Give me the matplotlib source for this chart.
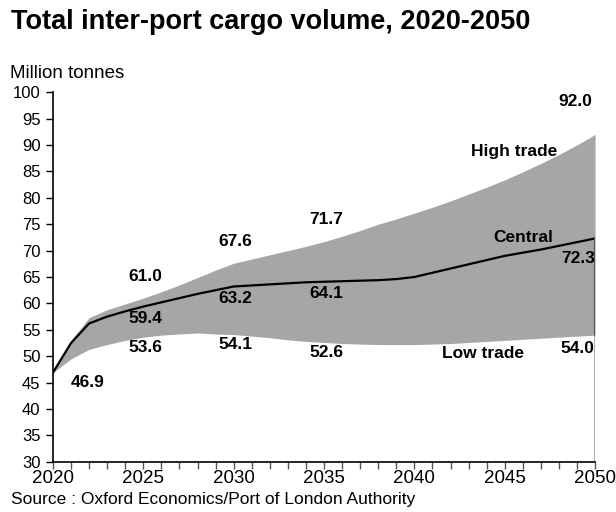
import matplotlib.pyplot as plt
import numpy as np

plt.rcParams['font.family'] = ['Liberation Sans', 'DejaVu Sans']

years = np.arange(2020, 2051)
central = [46.9, 52.5, 56.2, 57.5, 58.5, 59.4, 60.2, 61.0, 61.8, 62.5,
           63.2, 63.4, 63.6, 63.8, 64.0, 64.1, 64.2, 64.3, 64.4, 64.6,
           65.0, 65.8, 66.6, 67.4, 68.2, 69.0, 69.6, 70.2, 70.9, 71.6, 72.3]
high = [46.9, 53.0, 57.3, 58.8, 59.9, 61.0, 62.2, 63.5, 64.9, 66.3,
        67.6, 68.4, 69.2, 70.0, 70.8, 71.7, 72.7, 73.8, 75.0, 76.0,
        77.1, 78.2, 79.4, 80.7, 82.0, 83.4, 84.9, 86.5, 88.2, 90.0, 92.0]
low = [46.9, 49.5, 51.3, 52.2, 53.0, 53.6, 54.0, 54.2, 54.4, 54.2,
       54.1, 53.8, 53.5, 53.1, 52.8, 52.6, 52.4, 52.3, 52.2, 52.2,
       52.2, 52.3, 52.4, 52.6, 52.8, 53.0, 53.2, 53.4, 53.6, 53.8, 54.0]
label_years = [2025, 2030, 2035]

fig = plt.figure(figsize=(6.16, 5.12), dpi=100)
ax = fig.add_axes([0.086, 0.098, 0.880, 0.722])

ax.fill_between(years, low, high, color='#a6a6a6', lw=0)
ax.plot(years, central, color='black', lw=1.6)
# end-of-period drop line
ax.plot([2050, 2050], [30, low[-1]], color='#9a9a9a', lw=1.2)
ax.plot([2050, 2050], [low[-1], central[-1]], color='#555555', lw=1.6)

ax.set_xlim(2020, 2050)
ax.set_ylim(30, 100)
ax.set_yticks(np.arange(30, 101, 5))
ax.set_xticks(years)
ax.set_xticklabels([str(y) if y % 5 == 0 else '' for y in years])
ax.tick_params(axis='y', labelsize=12, length=5, width=1, direction='out', pad=4)
ax.tick_params(axis='x', labelsize=13.5, length=5, width=1, direction='out',
               color='#555555', pad=1)
for s in ['top', 'right']:
    ax.spines[s].set_visible(False)
ax.spines['left'].set_linewidth(1.2)
ax.spines['bottom'].set_linewidth(1.2)

idx = {y: i for i, y in enumerate(years)}
kw = dict(fontsize=12.5, fontweight='bold', ha='center', va='center',
          textcoords='offset pixels')
ax.annotate(f'{central[0]:.1f}', (2020, central[0]), xytext=(35, -10), **kw)
for y in label_years:
    i = idx[y]
    ax.annotate(f'{high[i]:.1f}', (y, high[i]), xytext=(2, 22), **kw)
    ax.annotate(f'{central[i]:.1f}', (y, central[i]), xytext=(2, -12), **kw)
    ax.annotate(f'{low[i]:.1f}', (y, low[i]), xytext=(2, -10), **kw)
ax.annotate(f'{high[-1]:.1f}', (2050, high[-1]), xytext=(-20, 33), **kw)
ax.annotate(f'{central[-1]:.1f}', (2050, central[-1]), xytext=(-17, -20), **kw)
ax.annotate(f'{low[-1]:.1f}', (2050, low[-1]), xytext=(-18, -13), **kw)
ax.text(2045.5, 88.8, 'High trade', fontsize=12.5, fontweight='bold', ha='center', va='center')
ax.text(2046.0, 72.5, 'Central', fontsize=12.5, fontweight='bold', ha='center', va='center')
ax.text(2043.8, 50.6, 'Low trade', fontsize=12.5, fontweight='bold', ha='center', va='center')

fig.text(0.018, 0.958, 'Total inter-port cargo volume, 2020-2050', fontsize=19.5,
         fontweight='bold', ha='left', va='center')
fig.text(0.016, 0.857, 'Million tonnes', fontsize=13.5, ha='left', va='center')
fig.text(0.018, 0.025, 'Source : Oxford Economics/Port of London Authority',
         fontsize=12.5, ha='left', va='center')

fig.savefig('out.png', dpi=100)
